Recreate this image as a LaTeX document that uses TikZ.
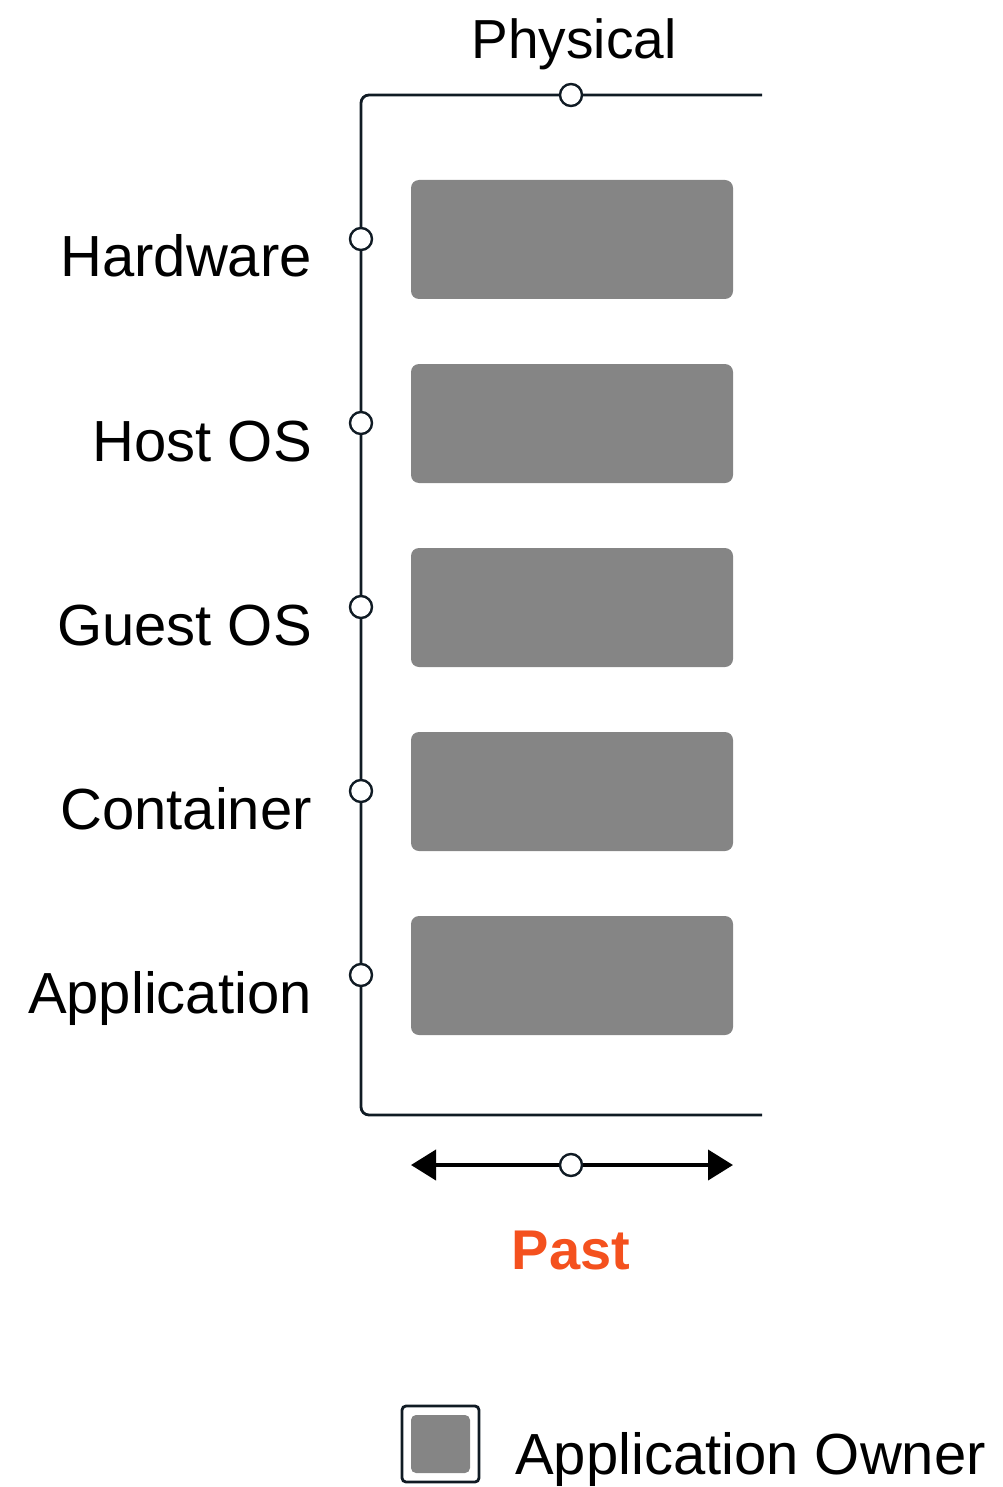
\documentclass[tikz,border=0pt]{standalone}
\usepackage{fontspec}
\setmainfont{Liberation Sans}
\usetikzlibrary{arrows.meta}
\definecolor{ln}{HTML}{101B24}
\definecolor{boxgray}{HTML}{858585}
\definecolor{pastorange}{HTML}{F4511E}
\begin{document}
\begin{tikzpicture}[x=1pt,y=-1pt,
  axis/.style={draw=ln,line width=2.8pt},
  dot/.style={circle,draw=ln,fill=white,line width=2.4pt,minimum size=22pt,inner sep=0pt},
  layer/.style={fill=boxgray,rounded corners=8pt},
  lbl/.style={font=\fontsize{58}{60}\selectfont,text=black,inner sep=0pt}]
\useasboundingbox (0,0) rectangle (1002,1487);
% axes
\coordinate (tr) at (762,95);
\coordinate (br) at (762,1115);
\draw[axis,rounded corners=8pt] (tr) -- (361,95) -- (361,1115) -- (br);
\node[dot] (top) at (571,95) {};
\node[lbl,anchor=base,font=\fontsize{55}{60}\selectfont] (phys) at (574,59) {Physical};
% layers
\foreach \y/\t/\n in {239/Hardware/hw,423/Host OS/hos,607/Guest OS/gos,791/Container/ct,975/Application/app}{
  \fill[layer] (411,\y-59) rectangle (733,\y+60);
  \node[dot] (d\n) at (361,\y) {};
  \node[lbl,anchor=base east] (l\n) at (312,\y+38) {\t};
}
% bottom arrow
\coordinate (al) at (411,1165);
\coordinate (ar) at (733,1165);
\draw[line width=4pt,{Triangle[length=25pt,width=30pt]}-{Triangle[length=25pt,width=30pt]}] (al) -- (ar);
\node[dot] (mid) at (571,1165) {};
\node[lbl,anchor=base,text=pastorange,font=\fontsize{56}{60}\selectfont\bfseries] (past) at (571,1269) {Past};
% legend
\draw[draw=ln,line width=2.8pt,rounded corners=4pt] (402,1406) rectangle (479,1482);
\fill[boxgray,rounded corners=5pt] (411,1415) rectangle (470,1473);
\node[lbl,anchor=base west] (leg) at (515,1474) {Application Owner};
\end{tikzpicture}
\end{document}
